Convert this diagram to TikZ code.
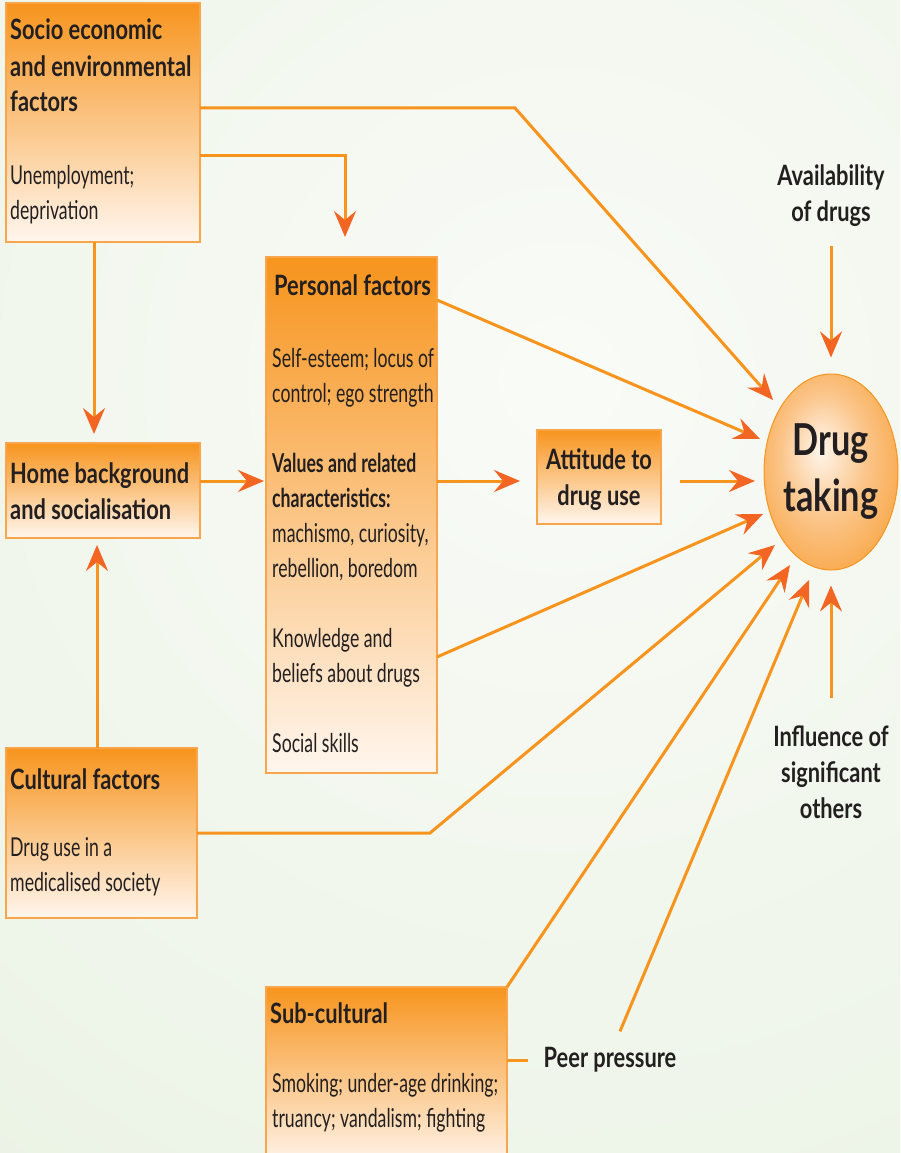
\documentclass[tikz,border=0pt]{standalone}
\usepackage{fontspec}
\setmainfont{Lato}[FakeStretch=0.68]
\newfontfamily\headfont{Lato}[FakeStretch=0.78]
\usetikzlibrary{arrows.meta, shapes.geometric, positioning}
\definecolor{lineor}{HTML}{F7941D}
\definecolor{tipor}{HTML}{F26522}
\definecolor{boxtop}{HTML}{F7941D}
\definecolor{boxbot}{HTML}{FFF6EE}
\definecolor{boxedge}{HTML}{F9A54B}
\definecolor{drugin}{HTML}{FFF6EC}
\definecolor{drugmid}{HTML}{FBC58A}
\definecolor{bgin}{HTML}{F9FBF7}
\definecolor{bgout}{HTML}{E4EFDC}
\definecolor{ink}{HTML}{231F20}
\pgfdeclareradialshading{drugball}{\pgfpoint{-4bp}{6bp}}{color(0bp)=(drugin); color(16bp)=(drugmid);
  color(40bp)=(lineor); color(50bp)=(lineor)}
\tikzset{
  box/.style={rectangle, draw=boxedge, line width=1.5pt, top color=boxtop, bottom color=boxbot,
    anchor=north west, inner sep=0pt, outer sep=0pt},
  head/.style={font=\headfont\bfseries\fontsize{28}{36}\selectfont, text=ink, anchor=base west,
    align=left, inner sep=0pt},
  body/.style={font=\fontsize{26}{35}\selectfont, text=ink, anchor=base west, align=left, inner sep=0pt},
  conn/.style={draw=lineor, line width=3pt},
  arr/.style={conn, -{Stealth[length=26pt, width=22pt, inset=9pt, color=tipor]}}
}
\begin{document}
\begin{tikzpicture}[x=1pt,y=-1pt]
  \useasboundingbox (0,0) rectangle (900,1153);
  \begin{scope}
    \clip (0,0) rectangle (900,1153);
    \shade[inner color=bgin, outer color=bgout] (560,380) circle (1500);
  \end{scope}
  \node at (6,3) (socio) [box, minimum width=194pt, minimum height=239pt] {};
  \node at (10,112) (sociohead) [head] {Socio economic\\and environmental\\factors};
  \node at (10,219) (sociotext) [body] {Unemployment;\\deprivation};
  \node at (266,257) (personal) [box, minimum width=171pt, minimum height=516pt] {};
  \node at (274,295) (personalhead) [head] {Personal factors};
  \node at (272,752) (personaltext) [body] {Self-esteem; locus of\\control; ego strength\\[35pt]
    \textbf{Values and related}\\\textbf{characteristics:}\\machismo, curiosity,\\rebellion, boredom\\[35pt]
    Knowledge and\\beliefs about drugs\\[35pt]Social skills};
  \node at (6,443) (home) [box, minimum width=194pt, minimum height=95pt] {};
  \node at (10,519) (homehead) [head] {Home background\\and socialisation};
  \node at (6,748) (cult) [box, minimum width=191pt, minimum height=170pt] {};
  \node at (10,789) (culthead) [head] {Cultural factors};
  \node at (10,891) (culttext) [body] {Drug use in a\\medicalised society};
  \node at (537,430) (attitude) [box, minimum width=124pt, minimum height=94pt] {};
  \node at (599,505) (attitudehead) [head, anchor=base, align=center] {Attitude to\\drug use};
  \node at (266,987) (sub) [box, minimum width=241pt, minimum height=180pt] {};
  \node at (270,1023) (subhead) [head] {Sub-cultural};
  \node at (272,1127) (subtext) [body] {Smoking; under-age drinking;\\truancy; vandalism; fighting};
  \node at (610,1060) (peer) [head, anchor=center] {Peer pressure};
  \node at (831,221) (avail) [head, anchor=base, align=center] {Availability\\of drugs};
  \node at (831,818) (influ) [head, anchor=base, align=center] {Influence of\\significant\\others};
  \node at (831,472) (drug) [ellipse, draw=lineor, line width=1pt, shading=drugball,
    minimum width=118pt, minimum height=196pt, inner sep=0pt,
    font=\headfont\bfseries\fontsize{44}{56}\selectfont, text=ink, align=center] {Drug\\taking};
  \coordinate (midrow) at (0,481);
  \coordinate (bendA) at (515,108);
  \coordinate (bendE) at (430,833);
  \coordinate (tA) at (773,400);
  \coordinate (tB) at (760,439);
  \coordinate (tC) at (755,481);
  \coordinate (tD) at (763,514);
  \coordinate (tE) at (775,545);
  \coordinate (tF) at (790,565);
  \coordinate (tG) at (809,580);
  \coordinate (tP) at (345,237);
  \coordinate (tS) at (94,434);
  \coordinate (tR) at (97,545);
  \draw[arr] (socio.east |- 0,108) -- (bendA) -- (tA);
  \draw[arr] (socio.east |- 0,155) -| (tP);
  \draw[arr] (socio.south -| tS) -- (tS);
  \draw[arr] (cult.north -| tR) -- (tR);
  \draw[arr, shorten >=2pt] (home.east |- midrow) -- (personal.west |- midrow);
  \draw[arr, shorten >=17pt] (personal.east |- midrow) -- (attitude.west |- midrow);
  \draw[arr, shorten <=19pt] (attitude.east |- midrow) -- (tC);
  \draw[arr] (personal.east |- 0,300) -- (tB);
  \draw[arr] (personal.east |- 0,657) -- (tD);
  \draw[arr] (cult.east) -- (bendE) -- (tE);
  \draw[arr] (sub.north east) -- (tF);
  \draw[arr] ([xshift=10pt,yshift=16pt]peer.north) -- (tG);
  \draw[conn] (sub.east |- peer.west) -- ([xshift=-15pt]peer.west);
  \draw[arr, shorten <=20pt, shorten >=16pt] (avail.south) -- (drug.north);
  \draw[arr, shorten <=27pt, shorten >=15pt] (influ.north) -- (drug.south);
\end{tikzpicture}
\end{document}
